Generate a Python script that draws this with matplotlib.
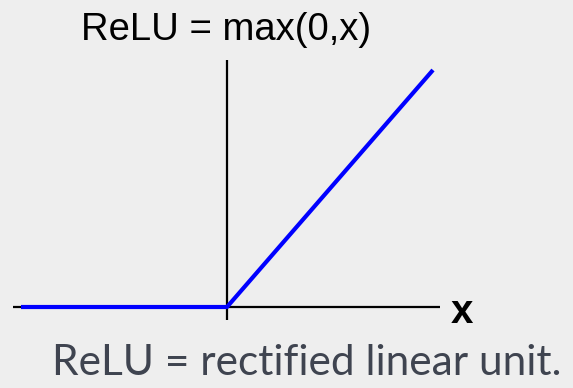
import numpy as np
import matplotlib.pyplot as plt

# ReLU sampled at the ends and the kink
x = np.array([-1.0, 0.0, 1.0])
relu = np.maximum(0, x)

title = "ReLU = max(0,x)"
caption = "ReLU = rectified linear unit."
axis_name = "x"

fig = plt.figure(figsize=(5.73, 3.88), dpi=100)
fig.patch.set_facecolor("#eeeeee")
ax = fig.add_axes([0, 0, 1, 1])
ax.set_facecolor("#eeeeee")

# pixel-ish layout: origin at (227, 307), unit ~ 206 px wide, 237 px tall
ax.set_xlim(-227 / 206, (573 - 227) / 206)
ax.set_ylim((307 - 388) / 237, 307 / 237)
ax.axis("off")

# hand-drawn axes
ax.plot([-1.039, 1.034], [0, 0], color="black", lw=1.6, solid_capstyle="butt", zorder=1)
ax.plot([0, 0], [-0.055, 1.042], color="black", lw=1.6, solid_capstyle="butt", zorder=1)

ax.plot(x, relu, color="#0000ff", lw=3, solid_capstyle="butt", zorder=2)

ax.text(1.14, -0.02, axis_name, fontsize=29, fontweight="bold", family="Liberation Sans",
        ha="center", va="center")
fig.text(226 / 573, 1 - 30 / 388, title, fontsize=27.5, family="Liberation Sans",
         ha="center", va="center", color="black")
fig.text(307 / 573, 1 - 363 / 388, caption, fontsize=30.5, family="Lato",
         fontweight="normal", ha="center", va="center", color="#3f4450")

fig.savefig("out.png", dpi=100, facecolor=fig.get_facecolor())
